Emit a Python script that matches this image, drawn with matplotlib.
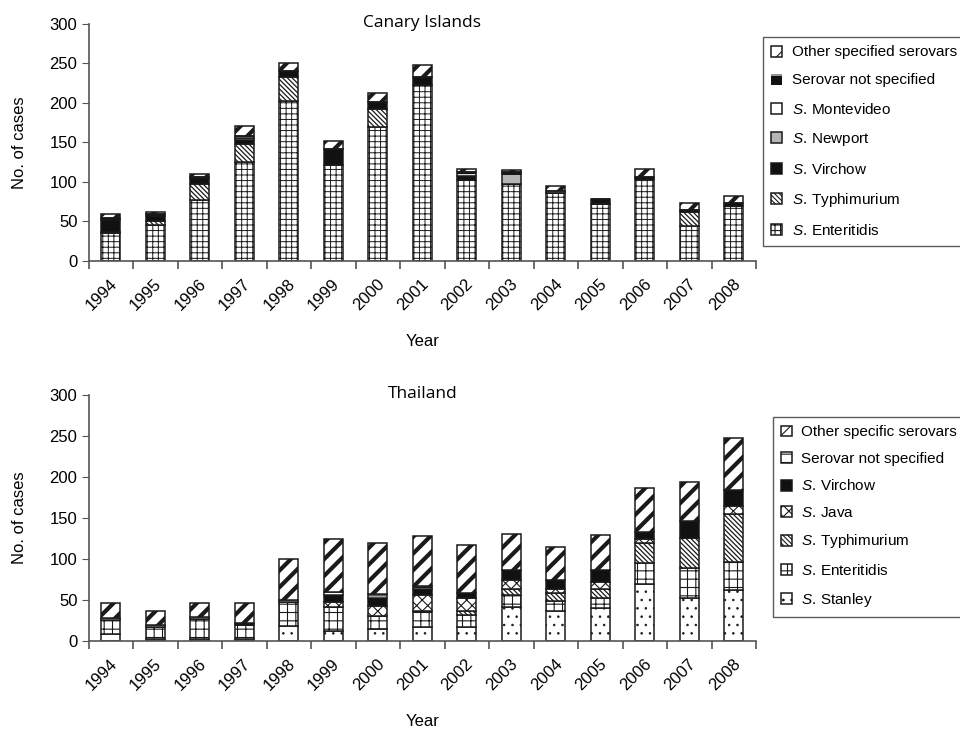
import matplotlib
matplotlib.use("Agg")
import matplotlib.pyplot as plt
import matplotlib.transforms as mtransforms
import numpy as np

plt.rcParams['font.family'] = ['Liberation Sans', 'DejaVu Sans']
plt.rcParams['mathtext.fontset'] = 'custom'
plt.rcParams['mathtext.rm'] = 'Liberation Sans'
plt.rcParams['mathtext.it'] = 'Liberation Sans:italic'
plt.rcParams['hatch.color'] = 'black'

years = [str(y) for y in range(1994, 2009)]

# Canary Islands, cases per year by serovar (stacking order bottom -> top)
ci_enteritidis = [35, 46, 77, 125, 203, 122, 170, 223, 102, 98, 86, 72, 104, 44, 70]
ci_typhimurium = [2, 5, 20, 23, 30, 0, 22, 0, 0, 0, 0, 0, 0, 18, 0]
ci_virchow = [15, 6, 8, 5, 8, 20, 9, 10, 5, 0, 0, 0, 2, 2, 0]
ci_newport = [0, 0, 0, 3, 0, 0, 0, 0, 0, 12, 0, 0, 0, 0, 0]
ci_montevideo = [0, 0, 0, 2, 0, 0, 0, 0, 0, 0, 0, 0, 0, 0, 0]
ci_not_specified = [2, 2, 1, 0, 0, 0, 0, 0, 6, 2, 2, 6, 0, 0, 4]
ci_other = [5, 3, 4, 13, 10, 10, 12, 15, 4, 3, 7, 1, 11, 10, 8]

# Thailand, cases per year by serovar (stacking order bottom -> top)
th_stanley = [9, 3, 3, 3, 18, 12, 15, 17, 17, 41, 37, 40, 70, 52, 62]
th_enteritidis = [17, 14, 24, 16, 29, 30, 15, 20, 15, 15, 12, 12, 25, 37, 34]
th_typhimurium = [0, 0, 0, 0, 0, 0, 0, 0, 5, 8, 9, 12, 24, 37, 59]
th_java = [0, 0, 0, 0, 0, 6, 13, 19, 16, 10, 6, 8, 6, 0, 10]
th_virchow = [0, 0, 0, 3, 0, 8, 10, 7, 5, 12, 11, 14, 8, 20, 19]
th_not_specified = [2, 3, 2, 0, 3, 4, 4, 4, 0, 0, 0, 0, 0, 0, 0]
th_other = [18, 17, 17, 24, 50, 65, 63, 61, 59, 45, 40, 43, 53, 48, 63]

BAR_W = 0.43
EDGE = '#1a1a1a'
BSL = '\\' * 7   # dense back-slash hatch


def italic_s(name):
    return r'$\it{S.}\,\mathrm{' + name + '}$'


def stack(ax, x, values, bottom, face, hatch, hlw, edge=EDGE, lw=1.1, outline=False):
    plt.rcParams['hatch.linewidth'] = hlw
    bars = ax.bar(x, values, BAR_W, bottom=bottom, color=face, edgecolor=edge,
                  linewidth=(0 if outline else lw), hatch=hatch, zorder=2)
    for p in bars:
        if hasattr(p, 'set_hatch_linewidth'):
            p.set_hatch_linewidth(hlw)
    if outline:
        ax.bar(x, values, BAR_W, bottom=bottom, color='none', edgecolor=EDGE,
               linewidth=lw, zorder=3)
    return bars


def style_axes(ax, title):
    ax.set_xlim(-0.5, len(years) - 0.5)
    ax.set_ylim(0, 300)
    ax.set_yticks(np.arange(0, 301, 50))
    for s in ('top', 'right'):
        ax.spines[s].set_visible(False)
    for s in ('left', 'bottom'):
        ax.spines[s].set_color('#555555')
        ax.spines[s].set_linewidth(1.2)
    ax.tick_params(axis='y', direction='out', length=5, color='#555555',
                   labelsize=12, pad=3)
    ax.set_xticks(np.arange(len(years)))
    ax.set_xticklabels(years, rotation=45, ha='right', va='center',
                       rotation_mode='anchor', fontsize=12)
    ax.tick_params(axis='x', which='major', length=0, pad=15)
    shift = mtransforms.ScaledTranslation(4 / 100, 0, fig.dpi_scale_trans)
    for lab in ax.get_xticklabels():
        lab.set_transform(lab.get_transform() + shift)
    ax.set_xticks(np.arange(-0.5, len(years)), minor=True)
    ax.tick_params(axis='x', which='minor', direction='out', length=6,
                   color='#555555', width=1.2)
    ax.set_xlabel('Year', fontsize=12, labelpad=15)
    ax.set_ylabel('No. of cases', fontsize=12, labelpad=16)
    ax.text(0.5, 1.005, title, transform=ax.transAxes, ha='center',
            va='center', fontsize=12.5, family=['Open Sans', 'DejaVu Sans'])


fig = plt.figure(figsize=(9.6, 7.3), dpi=100)
ax1 = fig.add_axes([0.0922, 0.6425, 0.6953, 0.3247])
ax2 = fig.add_axes([0.0922, 0.1219, 0.6953, 0.3370])
x = np.arange(len(years))

# --- Canary Islands ---
ci_series = [
    (ci_enteritidis, 'white', '+++', 0.7, EDGE, False, italic_s('Enteritidis')),
    (ci_typhimurium, 'white', BSL, 0.9, EDGE, False, italic_s('Typhimurium')),
    (ci_virchow, '#111111', None, 0.7, EDGE, False, italic_s('Virchow')),
    (ci_newport, '#b5b5b5', None, 0.7, EDGE, False, italic_s('Newport')),
    (ci_montevideo, 'white', None, 0.7, EDGE, False, italic_s('Montevideo')),
    (ci_not_specified, '#111111', '-', 1.2, 'white', True, 'Serovar not specified'),
    (ci_other, 'white', '//', 3.0, EDGE, False, 'Other specified serovars'),
]
bottom = np.zeros(len(years))
ci_handles = []
for vals, face, hatch, hlw, edge, outline, label in ci_series:
    vals = np.array(vals, dtype=float)
    b = stack(ax1, x, vals, bottom, face, hatch, hlw, edge=edge, outline=outline)
    ci_handles.append((b, label))
    bottom += vals
style_axes(ax1, 'Canary Islands')

# --- Thailand ---
th_series = [
    (th_stanley, 'white', '..', 0.6, EDGE, italic_s('Stanley')),
    (th_enteritidis, 'white', '++', 0.8, EDGE, italic_s('Enteritidis')),
    (th_typhimurium, 'white', BSL, 0.9, EDGE, italic_s('Typhimurium')),
    (th_java, 'white', 'xxx', 0.8, EDGE, italic_s('Java')),
    (th_virchow, '#111111', None, 0.7, EDGE, italic_s('Virchow')),
    (th_not_specified, 'white', '--', 0.8, EDGE, 'Serovar not specified'),
    (th_other, 'white', '//', 3.0, EDGE, 'Other specific serovars'),
]
bottom = np.zeros(len(years))
th_handles = []
for vals, face, hatch, hlw, edge, label in th_series:
    vals = np.array(vals, dtype=float)
    b = stack(ax2, x, vals, bottom, face, hatch, hlw, edge=edge)
    th_handles.append((b, label))
    bottom += vals
style_axes(ax2, 'Thailand')

plt.rcParams['hatch.linewidth'] = 0.8
legend_kw = dict(loc='upper left', fontsize=11, frameon=True, fancybox=False,
                 edgecolor='#333333', handlelength=0.72, handleheight=0.72,
                 handletextpad=0.6, borderpad=0.55, borderaxespad=0.0)

h, l = zip(*ci_handles[::-1])
leg1 = fig.legend(h, l, bbox_to_anchor=(0.7948, 0.9493), labelspacing=0.92,
                  **legend_kw)
h, l = zip(*th_handles[::-1])
leg2 = fig.legend(h, l, bbox_to_anchor=(0.805, 0.4288), labelspacing=0.82,
                  **legend_kw)
for leg in (leg1, leg2):
    leg.get_frame().set_linewidth(1.0)

fig.savefig('out.png', dpi=100)
